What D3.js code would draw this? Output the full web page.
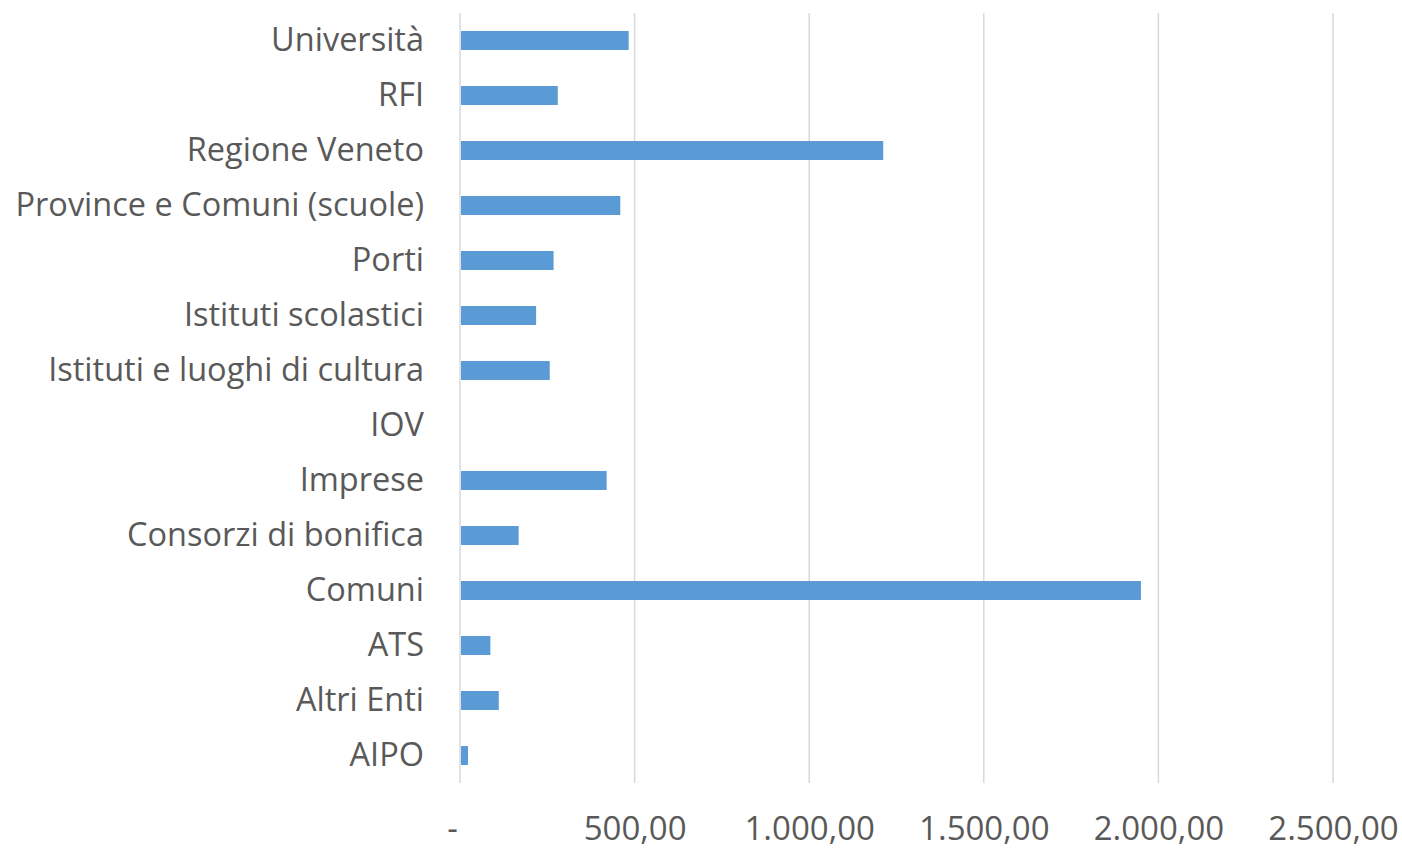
<!DOCTYPE html>
<html>
<head>
<meta charset="utf-8">
<script src="https://cdn.jsdelivr.net/npm/d3@7"></script>
<style>
  html, body { margin: 0; padding: 0; background: #ffffff; }
  svg { display: block; }
  text { font-family: "Open Sans", "Noto Sans", sans-serif; fill: #595959; }
</style>
</head>
<body>
<svg id="chart" width="1402" height="849"></svg>
<script>
// Data (top to bottom as shown)
const categories = [
  "Università", "RFI", "Regione Veneto", "Province e Comuni (scuole)", "Porti",
  "Istituti scolastici", "Istituti e luoghi di cultura", "IOV", "Imprese",
  "Consorzi di bonifica", "Comuni", "ATS", "Altri Enti", "AIPO"
];
const values = [483, 280, 1212, 459, 268, 218, 257, 0, 420, 168, 1950, 87, 111, 23];
const xTickValues = [0, 500, 1000, 1500, 2000, 2500];
const xTickLabels = ["-", "500,00", "1.000,00", "1.500,00", "2.000,00", "2.500,00"];

const svg = d3.select("#chart");
const margin = { left: 460, right: 69, top: 13, bottom: 66 };
const W = 1402, H = 849;

const x = d3.scaleLinear().domain([0, 2500]).range([margin.left, W - margin.right]);
const y = d3.scaleBand().domain(categories).range([margin.top, H - margin.bottom]).paddingInner(0.655).paddingOuter(0.3275);

// Gridlines
svg.append("g")
  .selectAll("line")
  .data(xTickValues)
  .join("line")
  .attr("x1", d => x(d)).attr("x2", d => x(d))
  .attr("y1", margin.top).attr("y2", H - margin.bottom)
  .attr("stroke", "#d9d9d9")
  .attr("stroke-width", 1.5);

// Bars
svg.append("g")
  .selectAll("rect")
  .data(categories)
  .join("rect")
  .attr("x", x(0) + 1)
  .attr("y", d => y(d))
  .attr("width", (d, i) => Math.max(0, x(values[i]) - x(0) - 1))
  .attr("height", y.bandwidth())
  .attr("fill", "#5b9bd5");

// Y axis labels
const yAxis = d3.axisLeft(y).tickSize(0).tickPadding(36);
const gy = svg.append("g").attr("transform", `translate(${margin.left},0)`).call(yAxis);
gy.select(".domain").remove();
gy.selectAll("text").attr("font-size", 32.5).attr("fill", "#595959")
  .style("font-family", '"Open Sans", "Noto Sans", sans-serif');

// X axis labels
const xAxis = d3.axisBottom(x).tickValues(xTickValues).tickSize(0).tickPadding(34)
  .tickFormat((d, i) => xTickLabels[i]);
const gx = svg.append("g").attr("transform", `translate(0,${H - margin.bottom})`).call(xAxis);
gx.select(".domain").remove();
gx.selectAll("text").attr("font-size", 33).attr("fill", "#595959")
  .style("font-family", '"Open Sans", "Noto Sans", sans-serif')
  .attr("dx", d => d === 0 ? -8 : 0);
</script>
</body>
</html>
